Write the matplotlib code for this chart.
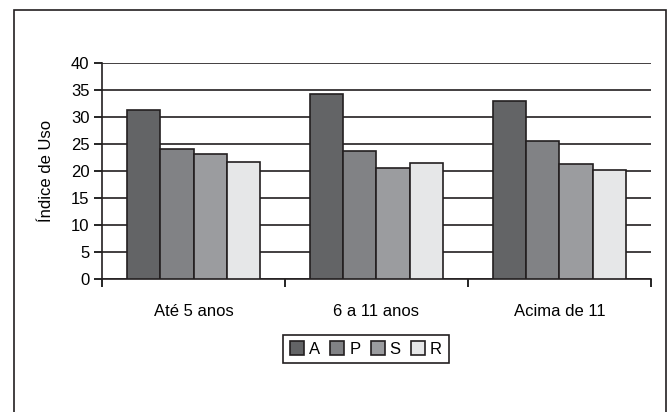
import numpy as np
import matplotlib.pyplot as plt
import matplotlib.patches as patches

# Data
categories = ["Até 5 anos", "6 a 11 anos", "Acima de 11"]
series = ["A", "P", "S", "R"]
values_A = [31.3, 34.3, 33.0]
values_P = [24.0, 23.7, 25.5]
values_S = [23.2, 20.5, 21.3]
values_R = [21.6, 21.5, 20.2]
colors = ["#636466", "#818285", "#9b9c9f", "#e6e7e8"]

plt.rcParams['font.family'] = ['Liberation Sans', 'DejaVu Sans']

fig = plt.figure(figsize=(6.69, 4.12), dpi=100)
ax = fig.add_axes([0.1525, 0.3228, 0.8205, 0.5242])

x = np.arange(len(categories))
w = 0.182
for i, (name, vals) in enumerate(zip(series, [values_A, values_P, values_S, values_R])):
    ax.bar(x + (i - 1.5) * w, vals, w, color=colors[i], edgecolor="#231f20",
           linewidth=1.2, label=name, zorder=3)

ax.set_xlim(-0.5, 2.5)
ax.set_ylim(0, 40)
ax.set_yticks(range(0, 41, 5))
ax.yaxis.grid(True, color="#231f20", linewidth=1.2, zorder=0)
ax.set_xticks([-0.5, 0.5, 1.5, 2.5])
ax.set_xticklabels([])
ax.set_xticks(x, minor=True)
ax.set_xticklabels(categories, minor=True)
ax.tick_params(axis="x", which="minor", length=0, pad=18, labelsize=12)
ax.tick_params(axis="x", which="major", length=6, width=1.2, direction="out")
ax.tick_params(axis="y", length=6, width=1.2, labelsize=12, pad=3)
for s in ["top", "right"]:
    ax.spines[s].set_visible(False)
for s in ["left", "bottom"]:
    ax.spines[s].set_linewidth(1.2)
    ax.spines[s].set_color("#231f20")
ax.set_ylabel("Índice de Uso", fontsize=12, labelpad=12)

leg = fig.legend(loc="center", bbox_to_anchor=(0.547, 0.153), ncol=4,
                 fontsize=12, handlelength=0.85, handleheight=0.85,
                 handletextpad=0.3, columnspacing=0.6, borderpad=0.4,
                 fancybox=False, framealpha=1)
leg.get_frame().set_edgecolor("#231f20")
leg.get_frame().set_linewidth(1.2)

# outer border
fig.patches.append(patches.Rectangle((14 / 669, -0.05), 652 / 669, 1.05 - 10 / 412,
                                     transform=fig.transFigure, fill=False,
                                     edgecolor="#231f20", linewidth=1.2))

fig.savefig("out.png", dpi=100)
